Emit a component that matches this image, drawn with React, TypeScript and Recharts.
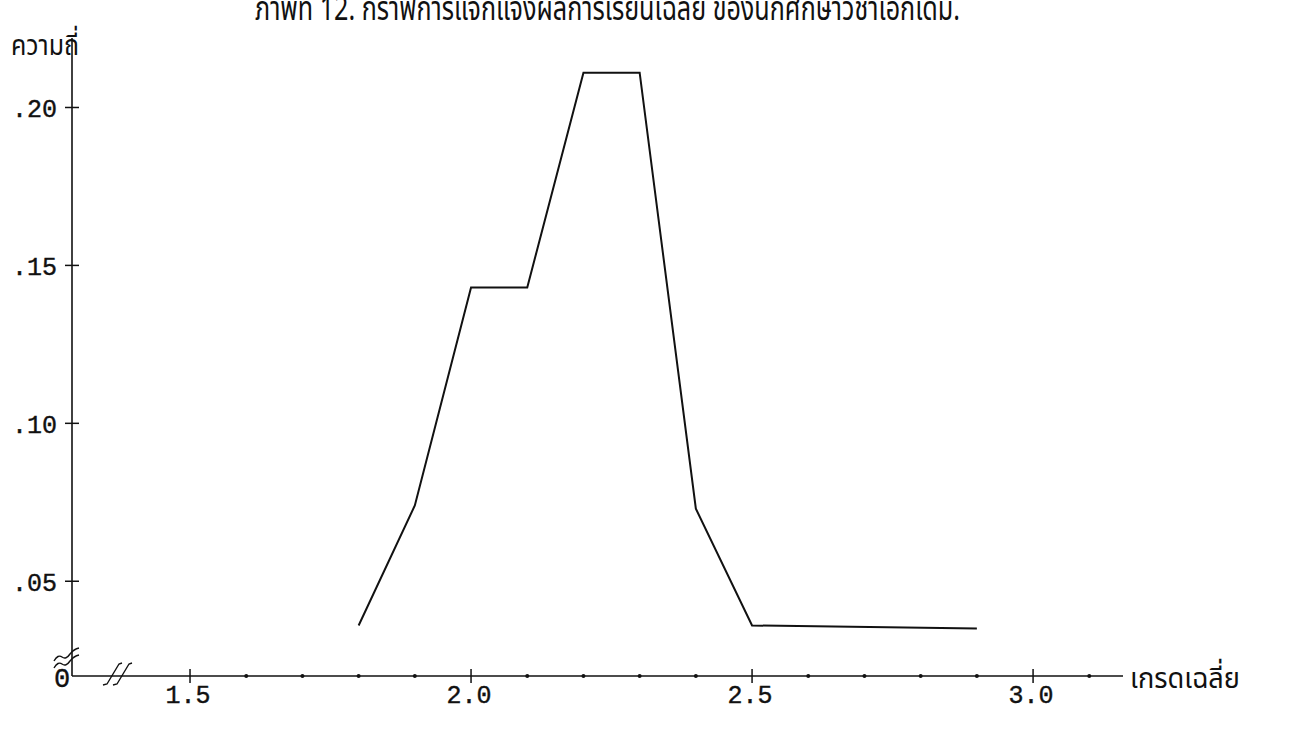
import React from 'react';
import { LineChart, Line, XAxis, YAxis, ReferenceDot } from 'recharts';

const grades = [1.8, 1.9, 2.0, 2.1, 2.2, 2.3, 2.4, 2.5, 2.9];
const frequencies = [0.036, 0.074, 0.143, 0.143, 0.211, 0.211, 0.073, 0.036, 0.035];
const xTicks = [1.5, 1.6, 1.7, 1.8, 1.9, 2.0, 2.1, 2.2, 2.3, 2.4, 2.5, 2.6, 2.7, 2.8, 2.9, 3.0, 3.1];
const xTickLabels = ['1.5', '2.0', '2.5', '3.0'];
const yTicks = [0.05, 0.1, 0.15, 0.2];
const yTickLabels = ['.05', '.10', '.15', '.20'];
const xDomain = [1.29, 3.16];
const yDomain = [0.02, 0.222];

const titleText = 'ภาพที่ 12. กราฟการแจกแจงผลการเรียนเฉลี่ย ของนักศึกษาวิชาเอกเดิม.';
const yAxisTitle = 'ความถี่';
const xAxisTitle = 'เกรดเฉลี่ย';
const originLabel = '0';

const data = grades.map((g, i) => ({ grade: g, freq: frequencies[i] }));

const MONO = "'Liberation Mono', 'DejaVu Sans Mono', monospace";
const THAI = "'Noto Sans Thai', 'Loma', 'Garuda', 'Noto Sans', sans-serif";
const INK = '#111';

const isMajor = (v: number) => Math.abs(v * 2 - Math.round(v * 2)) < 1e-6;

const XTick = (props: any) => {
  const { x, y, payload } = props;
  const v = payload.value as number;
  if (isMajor(v)) {
    const label = xTickLabels.find((l) => Math.abs(parseFloat(l) - v) < 1e-6) ?? '';
    return (
      <g>
        <line x1={x} x2={x} y1={y - 7} y2={y + 7} stroke={INK} strokeWidth={1.5} />
        <text x={x - 2} y={y + 20} textAnchor="middle" dominantBaseline="central" fontFamily={MONO} fontSize={25} fill={INK} stroke={INK} strokeWidth={0.4}>
          {label}
        </text>
      </g>
    );
  }
  return <circle cx={x} cy={y} r={2} fill={INK} />;
};

const YTick = (props: any) => {
  const { x, y, payload } = props;
  const v = payload.value as number;
  const idx = yTicks.findIndex((t) => Math.abs(t - v) < 1e-9);
  return (
    <g>
      <line x1={x - 7} x2={x + 7} y1={y} y2={y} stroke={INK} strokeWidth={1.5} />
      <text x={x - 15} y={y + 3} textAnchor="end" dominantBaseline="central" fontFamily={MONO} fontSize={25} fill={INK} stroke={INK} strokeWidth={0.4}>
        {yTickLabels[idx]}
      </text>
    </g>
  );
};

const OriginMarks = (props: any) => {
  const { cx, cy } = props;
  return (
    <g fill="none" stroke={INK} strokeWidth={1.4}>
      <path d={`M ${cx - 18} ${cy - 15} q 4 -7 8 -4 q 4 3 8 -3 q 4 -5 9 -6`} />
      <path d={`M ${cx - 18} ${cy - 8} q 4 -7 8 -4 q 4 3 8 -3 q 4 -5 9 -6`} />
      <path d={`M ${cx + 31} ${cy + 9} l 4 -1 l 12 -20 l 3 -1`} />
      <path d={`M ${cx + 41} ${cy + 9} l 4 -1 l 12 -20 l 3 -1`} />
      <text x={cx - 10} y={cy + 4} textAnchor="middle" dominantBaseline="central" fontFamily={MONO} fontSize={27} fill={INK} stroke={INK} strokeWidth={0.4}>
        {originLabel}
      </text>
    </g>
  );
};

const YTitle = (props: any) => {
  const { cx, cy } = props;
  return (
    <text x={cx - 27} y={cy + 17} textAnchor="middle" fontFamily={THAI} fontSize={29} fill={INK} textLength={68} lengthAdjust="spacingAndGlyphs">
      {yAxisTitle}
    </text>
  );
};

const XTitle = (props: any) => {
  const { cx, cy } = props;
  return (
    <text x={cx + 7} y={cy + 12} textAnchor="start" fontFamily={THAI} fontSize={29} fill={INK} textLength={110} lengthAdjust="spacingAndGlyphs">
      {xAxisTitle}
    </text>
  );
};

export default function App() {
  return (
    <div style={{ position: 'absolute', left: 0, top: 0, width: 1291, height: 729, background: '#fff', overflow: 'hidden' }}>
      <svg width={1291} height={40} style={{ position: 'absolute', left: 0, top: 0 }}>
        <text x={255} y={20} fontFamily={THAI} fontSize={33} fill={INK} textLength={705} lengthAdjust="spacingAndGlyphs">
          {titleText}
        </text>
      </svg>
      <LineChart
        width={1291}
        height={729}
        data={data}
        margin={{ top: 38, right: 168, bottom: 23, left: 12 }}
        style={{ position: 'absolute', left: 0, top: 0 }}
      >
        <XAxis
          dataKey="grade"
          type="number"
          domain={xDomain}
          allowDataOverflow
          ticks={xTicks}
          interval={0}
          tickSize={0}
          tickMargin={0}
          tickLine={false}
          height={30}
          axisLine={{ stroke: INK, strokeWidth: 1.6 }}
          tick={<XTick />}
        />
        <YAxis
          type="number"
          domain={yDomain}
          allowDataOverflow
          ticks={yTicks}
          interval={0}
          tickSize={0}
          tickMargin={0}
          tickLine={false}
          width={60}
          axisLine={{ stroke: INK, strokeWidth: 1.6 }}
          tick={<YTick />}
        />
        <Line
          type="linear"
          dataKey="freq"
          stroke={INK}
          strokeWidth={2}
          dot={false}
          isAnimationActive={false}
        />
        <ReferenceDot x={xDomain[0]} y={yDomain[0]} ifOverflow="visible" shape={<OriginMarks />} />
        <ReferenceDot x={xDomain[0]} y={yDomain[1]} ifOverflow="visible" shape={<YTitle />} />
        <ReferenceDot x={xDomain[1]} y={yDomain[0]} ifOverflow="visible" shape={<XTitle />} />
      </LineChart>
    </div>
  );
}
